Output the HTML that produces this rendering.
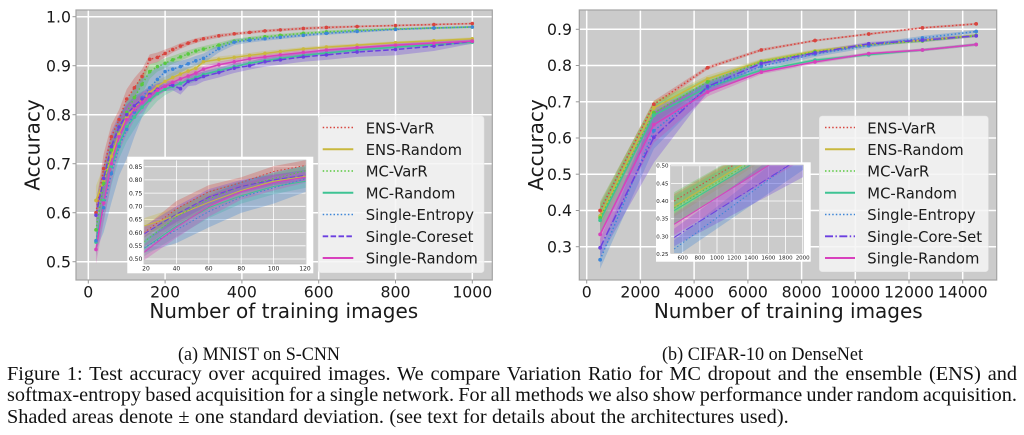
<!DOCTYPE html>
<html><head><meta charset="utf-8"><style>
html,body{margin:0;padding:0;background:#fff;}
body{position:relative;width:1024px;height:435px;overflow:hidden;}
svg{display:block;position:absolute;left:0;top:0;}
.t{font-family:"DejaVu Sans","Liberation Sans",sans-serif;fill:#1a1a1a;}
.cap{position:absolute;left:7px;width:1010px;height:24px;line-height:24px;font-family:"Liberation Serif","Times New Roman",Times,serif;font-size:20.3px;color:#111;overflow:hidden;}
.j{text-align:justify;text-align-last:justify;}
</style></head><body>
<svg width="1024" height="435" viewBox="0 0 1024 435" xmlns="http://www.w3.org/2000/svg">
<defs>
<clipPath id="cL"><rect x="76" y="10" width="416.3" height="270"/></clipPath>
<clipPath id="cR"><rect x="579.3" y="10" width="417.4" height="270"/></clipPath>
<clipPath id="cLi"><rect x="144" y="160" width="162" height="104"/></clipPath>
<clipPath id="cRi"><rect x="670.7" y="165" width="132.6" height="88.3"/></clipPath>

<g id="Ldata">
 <g stroke="none" fill-opacity="0.3">
  <path fill="#d8453f" d="M20 .62L40 .72L60 .78L80 .81L100 .852L120 .875L140 .893L160 .923L180 .927L200 .933L220 .939L240 .946L260 .951L280 .956L300 .959L340 .965L380 .968L420 .971L460 .974L500 .976L560 .979L620 .981L700 .982L800 .984L900 .986L1000 .988L1000 .984L900 .982L800 .98L700 .978L620 .975L560 .973L500 .97L460 .968L420 .965L380 .962L340 .957L300 .951L280 .946L260 .941L240 .934L220 .927L200 .917L180 .907L160 .903L140 .863L120 .835L100 .812L80 .77L60 .73L40 .66L20 .58Z"/>
  <path fill="#c9b83e" d="M20 .655L40 .695L60 .745L80 .785L100 .815L120 .835L140 .845L160 .86L180 .87L200 .878L220 .886L240 .893L260 .897L280 .903L300 .914L340 .919L380 .922L420 .926L460 .93L500 .933L560 .938L620 .942L700 .945L800 .95L900 .954L1000 .958L1000 .952L900 .948L800 .944L700 .939L620 .934L560 .93L500 .925L460 .92L420 .916L380 .912L340 .907L300 .902L280 .887L260 .881L240 .873L220 .866L200 .858L180 .846L160 .83L140 .815L120 .795L100 .775L80 .735L60 .685L40 .635L20 .595Z"/>
  <path fill="#58c93f" d="M20 .585L40 .69L60 .758L80 .795L100 .825L120 .855L140 .882L160 .903L180 .908L200 .915L220 .92L240 .926L260 .931L280 .936L300 .94L340 .947L380 .955L420 .959L460 .963L500 .965L560 .969L620 .972L700 .975L800 .977L900 .979L1000 .981L1000 .977L900 .975L800 .973L700 .969L620 .966L560 .963L500 .959L460 .955L420 .951L380 .945L340 .937L300 .928L280 .924L260 .917L240 .91L220 .904L200 .895L180 .888L160 .873L140 .842L120 .815L100 .785L80 .755L60 .698L40 .63L20 .545Z"/>
  <path fill="#3ec393" d="M20 .57L40 .665L60 .735L80 .77L100 .805L120 .82L140 .835L160 .85L180 .858L200 .864L220 .868L240 .874L260 .878L280 .884L300 .889L340 .896L380 .903L420 .91L460 .915L500 .92L560 .925L620 .93L700 .936L800 .942L900 .947L1000 .952L1000 .944L900 .939L800 .934L700 .928L620 .922L560 .917L500 .91L460 .905L420 .9L380 .893L340 .884L300 .875L280 .868L260 .862L240 .854L220 .848L200 .84L180 .828L160 .81L140 .795L120 .77L100 .745L80 .71L60 .655L40 .585L20 .51Z"/>
  <path fill="#3d86d8" d="M20 .563L40 .66L60 .74L80 .795L100 .83L120 .855L140 .875L160 .885L180 .897L200 .908L220 .908L240 .91L260 .914L280 .92L300 .925L340 .943L380 .954L420 .957L460 .959L500 .962L560 .965L620 .969L700 .973L800 .976L900 .979L1000 .981L1000 .977L900 .975L800 .972L700 .967L620 .963L560 .959L500 .954L460 .951L420 .947L380 .942L340 .927L300 .905L280 .9L260 .894L240 .886L220 .878L200 .868L180 .847L160 .825L140 .795L120 .755L100 .71L80 .675L60 .62L40 .56L20 .523Z"/>
  <path fill="#6b3fe0" d="M20 .625L40 .7L60 .765L80 .8L100 .82L120 .838L140 .847L160 .857L180 .864L200 .868L220 .87L240 .865L260 .878L280 .884L300 .888L340 .896L380 .905L420 .908L460 .918L500 .922L560 .928L620 .932L700 .938L800 .945L900 .95L1000 .955L1000 .945L900 .93L800 .921L700 .918L620 .912L560 .908L500 .902L460 .898L420 .892L380 .885L340 .876L300 .868L280 .86L260 .858L240 .841L220 .85L200 .848L180 .84L160 .827L140 .817L120 .798L100 .78L80 .75L60 .705L40 .64L20 .565Z"/>
  <path fill="#d840bd" d="M20 .555L40 .66L60 .74L80 .785L100 .82L120 .83L140 .845L160 .853L180 .862L200 .868L220 .876L240 .883L260 .887L280 .893L300 .9L340 .908L380 .914L420 .919L460 .923L500 .927L560 .932L620 .936L700 .941L800 .946L900 .95L1000 .954L1000 .946L900 .942L800 .938L700 .933L620 .928L560 .922L500 .917L460 .913L420 .909L380 .902L340 .896L300 .886L280 .877L260 .871L240 .863L220 .856L200 .848L180 .838L160 .823L140 .805L120 .79L100 .76L80 .725L60 .66L40 .58L20 .495Z"/>
 </g>
 <g fill="none">
  <path vector-effect="non-scaling-stroke" stroke="#d8453f" stroke-dasharray="1.5 2.2" d="M20 .6L40 .69L60 .755L80 .79L100 .832L120 .855L140 .878L160 .913L180 .917L200 .925L220 .933L240 .94L260 .946L280 .951L300 .955L340 .961L380 .965L420 .968L460 .971L500 .973L560 .976L620 .978L700 .98L800 .982L900 .984L1000 .986"/>
  <path vector-effect="non-scaling-stroke" stroke="#c9b83e" d="M20 .625L40 .665L60 .715L80 .76L100 .795L120 .815L140 .83L160 .845L180 .858L200 .868L220 .876L240 .883L260 .889L280 .895L300 .908L340 .913L380 .917L420 .921L460 .925L500 .929L560 .934L620 .938L700 .942L800 .947L900 .951L1000 .955"/>
  <path vector-effect="non-scaling-stroke" stroke="#58c93f" stroke-dasharray="1.5 2.2" d="M20 .565L40 .66L60 .728L80 .775L100 .805L120 .835L140 .862L160 .888L180 .898L200 .905L220 .912L240 .918L260 .924L280 .93L300 .934L340 .942L380 .95L420 .955L460 .959L500 .962L560 .966L620 .969L700 .972L800 .975L900 .977L1000 .979"/>
  <path vector-effect="non-scaling-stroke" stroke="#3ec393" d="M20 .54L40 .625L60 .695L80 .74L100 .775L120 .795L140 .815L160 .83L180 .843L200 .852L220 .858L240 .864L260 .87L280 .876L300 .882L340 .89L380 .898L420 .905L460 .91L500 .915L560 .921L620 .926L700 .932L800 .938L900 .943L1000 .948"/>
  <path vector-effect="non-scaling-stroke" stroke="#3d86d8" stroke-dasharray="1.5 2.2" d="M20 .543L40 .61L60 .68L80 .735L100 .77L120 .805L140 .835L160 .855L180 .872L200 .888L220 .893L240 .898L260 .904L280 .91L300 .915L340 .935L380 .948L420 .952L460 .955L500 .958L560 .962L620 .966L700 .97L800 .974L900 .977L1000 .979"/>
  <path vector-effect="non-scaling-stroke" stroke="#6b3fe0" stroke-dasharray="5.5 2.4" d="M20 .595L40 .67L60 .735L80 .775L100 .8L120 .818L140 .832L160 .842L180 .852L200 .858L220 .86L240 .853L260 .868L280 .872L300 .878L340 .886L380 .895L420 .9L460 .908L500 .912L560 .918L620 .922L700 .928L800 .933L900 .94L1000 .95"/>
  <path vector-effect="non-scaling-stroke" stroke="#d840bd" d="M20 .525L40 .62L60 .7L80 .755L100 .79L120 .81L140 .825L160 .838L180 .85L200 .858L220 .866L240 .873L260 .879L280 .885L300 .893L340 .902L380 .908L420 .914L460 .918L500 .922L560 .927L620 .932L700 .937L800 .942L900 .946L1000 .95"/>
 </g>
</g>

<g id="Lmarks" fill="none" stroke-linecap="round" stroke-width="3.6">
  <path vector-effect="non-scaling-stroke" stroke="#d8453f" d="M20 .6h0M40 .69h0M60 .755h0M80 .79h0M100 .832h0M120 .855h0M140 .878h0M160 .913h0M180 .917h0M200 .925h0M220 .933h0M240 .94h0M260 .946h0M280 .951h0M300 .955h0M340 .961h0M380 .965h0M420 .968h0M460 .971h0M500 .973h0M560 .976h0M620 .978h0M700 .98h0M800 .982h0M900 .984h0M1000 .986h0"/>
  <path vector-effect="non-scaling-stroke" stroke="#c9b83e" d="M20 .625h0M40 .665h0M60 .715h0M80 .76h0M100 .795h0M120 .815h0M140 .83h0M160 .845h0M180 .858h0M200 .868h0M220 .876h0M240 .883h0M260 .889h0M280 .895h0M300 .908h0M340 .913h0M380 .917h0M420 .921h0M460 .925h0M500 .929h0M560 .934h0M620 .938h0M700 .942h0M800 .947h0M900 .951h0M1000 .955h0"/>
  <path vector-effect="non-scaling-stroke" stroke="#58c93f" d="M20 .565h0M40 .66h0M60 .728h0M80 .775h0M100 .805h0M120 .835h0M140 .862h0M160 .888h0M180 .898h0M200 .905h0M220 .912h0M240 .918h0M260 .924h0M280 .93h0M300 .934h0M340 .942h0M380 .95h0M420 .955h0M460 .959h0M500 .962h0M560 .966h0M620 .969h0M700 .972h0M800 .975h0M900 .977h0M1000 .979h0"/>
  <path vector-effect="non-scaling-stroke" stroke="#3ec393" d="M20 .54h0M40 .625h0M60 .695h0M80 .74h0M100 .775h0M120 .795h0M140 .815h0M160 .83h0M180 .843h0M200 .852h0M220 .858h0M240 .864h0M260 .87h0M280 .876h0M300 .882h0M340 .89h0M380 .898h0M420 .905h0M460 .91h0M500 .915h0M560 .921h0M620 .926h0M700 .932h0M800 .938h0M900 .943h0M1000 .948h0"/>
  <path vector-effect="non-scaling-stroke" stroke="#3d86d8" d="M20 .543h0M40 .61h0M60 .68h0M80 .735h0M100 .77h0M120 .805h0M140 .835h0M160 .855h0M180 .872h0M200 .888h0M220 .893h0M240 .898h0M260 .904h0M280 .91h0M300 .915h0M340 .935h0M380 .948h0M420 .952h0M460 .955h0M500 .958h0M560 .962h0M620 .966h0M700 .97h0M800 .974h0M900 .977h0M1000 .979h0"/>
  <path vector-effect="non-scaling-stroke" stroke="#6b3fe0" d="M20 .595h0M40 .67h0M60 .735h0M80 .775h0M100 .8h0M120 .818h0M140 .832h0M160 .842h0M180 .852h0M200 .858h0M220 .86h0M240 .853h0M260 .868h0M280 .872h0M300 .878h0M340 .886h0M380 .895h0M420 .9h0M460 .908h0M500 .912h0M560 .918h0M620 .922h0M700 .928h0M800 .933h0M900 .94h0M1000 .95h0"/>
  <path vector-effect="non-scaling-stroke" stroke="#d840bd" d="M20 .525h0M40 .62h0M60 .7h0M80 .755h0M100 .79h0M120 .81h0M140 .825h0M160 .838h0M180 .85h0M200 .858h0M220 .866h0M240 .873h0M260 .879h0M280 .885h0M300 .893h0M340 .902h0M380 .908h0M420 .914h0M460 .918h0M500 .922h0M560 .927h0M620 .932h0M700 .937h0M800 .942h0M900 .946h0M1000 .95h0"/>
</g>

<g id="Rdata">
 <g stroke="none" fill-opacity="0.3">
  <path fill="#d8453f" d="M500 .42L2500 .703L4500 .799L6500 .847L8500 .872L10500 .89L12500 .907L14500 .918L14500 .912L12500 .901L10500 .884L8500 .866L6500 .839L4500 .789L2500 .683L500 .38Z"/>
  <path fill="#c9b83e" d="M500 .415L2500 .703L4500 .773L6500 .818L8500 .845L10500 .862L12500 .874L14500 .887L14500 .879L12500 .866L10500 .854L8500 .835L6500 .806L4500 .753L2500 .663L500 .355Z"/>
  <path fill="#58c93f" d="M500 .425L2500 .7L4500 .767L6500 .816L8500 .843L10500 .861L12500 .872L14500 .887L14500 .879L12500 .864L10500 .853L8500 .833L6500 .804L4500 .743L2500 .64L500 .335Z"/>
  <path fill="#3ec393" d="M500 .413L2500 .693L4500 .752L6500 .793L8500 .82L10500 .834L12500 .847L14500 .862L14500 .854L12500 .839L10500 .826L8500 .81L6500 .781L4500 .728L2500 .633L500 .333Z"/>
  <path fill="#3d86d8" d="M500 .289L2500 .67L4500 .753L6500 .808L8500 .84L10500 .861L12500 .882L14500 .898L14500 .89L12500 .87L10500 .849L8500 .824L6500 .788L4500 .723L2500 .57L500 .239Z"/>
  <path fill="#6b3fe0" d="M500 .322L2500 .672L4500 .757L6500 .814L8500 .841L10500 .865L12500 .875L14500 .886L14500 .878L12500 .865L10500 .855L8500 .829L6500 .798L4500 .727L2500 .532L500 .272Z"/>
  <path fill="#d840bd" d="M500 .364L2500 .687L4500 .739L6500 .788L8500 .815L10500 .837L12500 .847L14500 .862L14500 .854L12500 .839L10500 .829L8500 .805L6500 .776L4500 .715L2500 .587L500 .304Z"/>
 </g>
 <g fill="none">
  <path vector-effect="non-scaling-stroke" stroke="#d8453f" stroke-dasharray="1.5 2.2" d="M500 .4L2500 .693L4500 .794L6500 .843L8500 .869L10500 .887L12500 .904L14500 .915"/>
  <path vector-effect="non-scaling-stroke" stroke="#c9b83e" d="M500 .385L2500 .683L4500 .763L6500 .812L8500 .84L10500 .858L12500 .87L14500 .883"/>
  <path vector-effect="non-scaling-stroke" stroke="#58c93f" stroke-dasharray="1.5 2.2" d="M500 .38L2500 .67L4500 .755L6500 .81L8500 .838L10500 .857L12500 .868L14500 .883"/>
  <path vector-effect="non-scaling-stroke" stroke="#3ec393" d="M500 .373L2500 .663L4500 .74L6500 .787L8500 .815L10500 .83L12500 .843L14500 .858"/>
  <path vector-effect="non-scaling-stroke" stroke="#3d86d8" stroke-dasharray="1.5 2.2" d="M500 .264L2500 .62L4500 .738L6500 .798L8500 .832L10500 .855L12500 .876L14500 .894"/>
  <path vector-effect="non-scaling-stroke" stroke="#6b3fe0" stroke-dasharray="8 2.4 1.5 2.4" d="M500 .297L2500 .602L4500 .742L6500 .806L8500 .835L10500 .86L12500 .87L14500 .882"/>
  <path vector-effect="non-scaling-stroke" stroke="#d840bd" d="M500 .334L2500 .637L4500 .727L6500 .782L8500 .81L10500 .833L12500 .843L14500 .858"/>
 </g>
</g>

<g id="Rmarks" fill="none" stroke-linecap="round" stroke-width="3.8">
  <path vector-effect="non-scaling-stroke" stroke="#d8453f" d="M500 .4h0M2500 .693h0M4500 .794h0M6500 .843h0M8500 .869h0M10500 .887h0M12500 .904h0M14500 .915h0"/>
  <path vector-effect="non-scaling-stroke" stroke="#c9b83e" d="M500 .385h0M2500 .683h0M4500 .763h0M6500 .812h0M8500 .84h0M10500 .858h0M12500 .87h0M14500 .883h0"/>
  <path vector-effect="non-scaling-stroke" stroke="#58c93f" d="M500 .38h0M2500 .67h0M4500 .755h0M6500 .81h0M8500 .838h0M10500 .857h0M12500 .868h0M14500 .883h0"/>
  <path vector-effect="non-scaling-stroke" stroke="#3ec393" d="M500 .373h0M2500 .663h0M4500 .74h0M6500 .787h0M8500 .815h0M10500 .83h0M12500 .843h0M14500 .858h0"/>
  <path vector-effect="non-scaling-stroke" stroke="#3d86d8" d="M500 .264h0M2500 .62h0M4500 .738h0M6500 .798h0M8500 .832h0M10500 .855h0M12500 .876h0M14500 .894h0"/>
  <path vector-effect="non-scaling-stroke" stroke="#6b3fe0" d="M500 .297h0M2500 .602h0M4500 .742h0M6500 .806h0M8500 .835h0M10500 .86h0M12500 .87h0M14500 .882h0"/>
  <path vector-effect="non-scaling-stroke" stroke="#d840bd" d="M500 .334h0M2500 .637h0M4500 .727h0M6500 .782h0M8500 .81h0M10500 .833h0M12500 .843h0M14500 .858h0"/>
</g>
</defs>

<!-- ================= LEFT PLOT ================= -->
<rect x="76" y="10" width="416.3" height="270" fill="#cbcbcb"/>
<g stroke="#ffffff" stroke-width="1.5">
  <line x1="88.3" y1="10" x2="88.3" y2="280"/>
  <line x1="165.1" y1="10" x2="165.1" y2="280"/>
  <line x1="241.9" y1="10" x2="241.9" y2="280"/>
  <line x1="318.7" y1="10" x2="318.7" y2="280"/>
  <line x1="395.5" y1="10" x2="395.5" y2="280"/>
  <line x1="472.3" y1="10" x2="472.3" y2="280"/>
  <line x1="76" y1="16.7" x2="492.3" y2="16.7"/>
  <line x1="76" y1="65.7" x2="492.3" y2="65.7"/>
  <line x1="76" y1="114.7" x2="492.3" y2="114.7"/>
  <line x1="76" y1="163.7" x2="492.3" y2="163.7"/>
  <line x1="76" y1="212.7" x2="492.3" y2="212.7"/>
  <line x1="76" y1="261.7" x2="492.3" y2="261.7"/>
</g>
<g clip-path="url(#cL)">
  <use href="#Ldata" transform="translate(88.3,506.7) scale(0.384,-490)" stroke-width="1.5"/>
  <use href="#Lmarks" transform="translate(88.3,506.7) scale(0.384,-490)"/>
</g>
<rect x="76" y="10" width="416.3" height="270" fill="none" stroke="#a3a3a3" stroke-width="1.2"/>
<g stroke="#999" stroke-width="1">
  <line x1="72.5" y1="16.7" x2="76" y2="16.7"/><line x1="72.5" y1="65.7" x2="76" y2="65.7"/><line x1="72.5" y1="114.7" x2="76" y2="114.7"/><line x1="72.5" y1="163.7" x2="76" y2="163.7"/><line x1="72.5" y1="212.7" x2="76" y2="212.7"/><line x1="72.5" y1="261.7" x2="76" y2="261.7"/>
  <line x1="88.3" y1="280" x2="88.3" y2="283.5"/><line x1="165.1" y1="280" x2="165.1" y2="283.5"/><line x1="241.9" y1="280" x2="241.9" y2="283.5"/><line x1="318.7" y1="280" x2="318.7" y2="283.5"/><line x1="395.5" y1="280" x2="395.5" y2="283.5"/><line x1="472.3" y1="280" x2="472.3" y2="283.5"/>
</g>
<g class="t" font-size="15.7" text-anchor="end">
  <text x="71" y="22.4">1.0</text>
  <text x="71" y="71.4">0.9</text>
  <text x="71" y="120.4">0.8</text>
  <text x="71" y="169.4">0.7</text>
  <text x="71" y="218.4">0.6</text>
  <text x="71" y="267.4">0.5</text>
</g>
<g class="t" font-size="15.7" text-anchor="middle">
  <text x="88.3" y="297.5">0</text>
  <text x="165.1" y="297.5">200</text>
  <text x="241.9" y="297.5">400</text>
  <text x="318.7" y="297.5">600</text>
  <text x="395.5" y="297.5">800</text>
  <text x="472.3" y="297.5">1000</text>
</g>
<text class="t" font-size="20" text-anchor="middle" x="283.8" y="318">Number of training images</text>
<text class="t" font-size="20" text-anchor="middle" transform="translate(39.5,145) rotate(-90)">Accuracy</text>

<!-- left legend -->
<rect x="318.3" y="116" width="165.7" height="156.7" rx="3" fill="#f5f5f5" fill-opacity="0.86" stroke="#e4e4e4" stroke-width="0.6"/>
<g fill="none">
  <line x1="322.7" y1="127.5" x2="353.3" y2="127.5" stroke="#d8453f" stroke-width="1.6" stroke-dasharray="1.5 2.1"/>
  <line x1="322.7" y1="149.2" x2="353.3" y2="149.2" stroke="#c9b83e" stroke-width="2"/>
  <line x1="322.7" y1="171" x2="353.3" y2="171" stroke="#58c93f" stroke-width="1.6" stroke-dasharray="1.5 2.1"/>
  <line x1="322.7" y1="192.7" x2="353.3" y2="192.7" stroke="#3ec393" stroke-width="2"/>
  <line x1="322.7" y1="214.5" x2="353.3" y2="214.5" stroke="#3d86d8" stroke-width="1.6" stroke-dasharray="1.5 2.1"/>
  <line x1="322.7" y1="236.3" x2="353.3" y2="236.3" stroke="#6b3fe0" stroke-width="1.8" stroke-dasharray="5.5 2.4"/>
  <line x1="322.7" y1="258" x2="353.3" y2="258" stroke="#d840bd" stroke-width="2"/>
</g>
<g class="t" font-size="14.8">
  <text x="365.7" y="133.3">ENS-VarR</text>
  <text x="365.7" y="155">ENS-Random</text>
  <text x="365.7" y="176.7">MC-VarR</text>
  <text x="365.7" y="198.4">MC-Random</text>
  <text x="365.7" y="220.2">Single-Entropy</text>
  <text x="365.7" y="242">Single-Coreset</text>
  <text x="365.7" y="263.7">Single-Random</text>
</g>

<!-- left inset -->
<rect x="127.3" y="156.7" width="186" height="116.6" fill="#ffffff"/>
<rect x="144" y="160" width="162" height="104" fill="#cbcbcb"/>
<g stroke="#ffffff" stroke-width="0.8">
  <line x1="144" y1="160" x2="144" y2="264"/><line x1="176.4" y1="160" x2="176.4" y2="264"/><line x1="208.8" y1="160" x2="208.8" y2="264"/><line x1="241.2" y1="160" x2="241.2" y2="264"/><line x1="273.6" y1="160" x2="273.6" y2="264"/><line x1="306" y1="160" x2="306" y2="264"/>
  <line x1="144" y1="259" x2="306" y2="259"/><line x1="144" y1="245.8" x2="306" y2="245.8"/><line x1="144" y1="232.6" x2="306" y2="232.6"/><line x1="144" y1="219.5" x2="306" y2="219.5"/><line x1="144" y1="206.3" x2="306" y2="206.3"/><line x1="144" y1="193.1" x2="306" y2="193.1"/><line x1="144" y1="179.9" x2="306" y2="179.9"/><line x1="144" y1="166.7" x2="306" y2="166.7"/>
</g>
<g clip-path="url(#cLi)">
  <use href="#Ldata" transform="translate(111.6,390.85) scale(1.62,-263.7)" stroke-width="1"/>
</g>
<rect x="144" y="160" width="162" height="104" fill="none" stroke="#b5b5b5" stroke-width="0.6"/>
<g class="t" font-size="6" text-anchor="end" fill="#333">
  <text x="142.3" y="261.2">0.50</text>
  <text x="142.3" y="248">0.55</text>
  <text x="142.3" y="234.8">0.60</text>
  <text x="142.3" y="221.7">0.65</text>
  <text x="142.3" y="208.5">0.70</text>
  <text x="142.3" y="195.3">0.75</text>
  <text x="142.3" y="182.1">0.80</text>
  <text x="142.3" y="168.9">0.85</text>
</g>
<g class="t" font-size="6" text-anchor="middle" fill="#333">
  <text x="146" y="270.5">20</text>
  <text x="176.4" y="270.5">40</text>
  <text x="208.8" y="270.5">60</text>
  <text x="241.2" y="270.5">80</text>
  <text x="273.6" y="270.5">100</text>
  <text x="305" y="270.5">120</text>
</g>

<!-- ================= RIGHT PLOT ================= -->
<rect x="579.3" y="10" width="417.4" height="270" fill="#cbcbcb"/>
<g stroke="#ffffff" stroke-width="1.5">
  <line x1="586.7" y1="10" x2="586.7" y2="280"/>
  <line x1="640.4" y1="10" x2="640.4" y2="280"/>
  <line x1="694.1" y1="10" x2="694.1" y2="280"/>
  <line x1="747.9" y1="10" x2="747.9" y2="280"/>
  <line x1="801.6" y1="10" x2="801.6" y2="280"/>
  <line x1="855.3" y1="10" x2="855.3" y2="280"/>
  <line x1="909" y1="10" x2="909" y2="280"/>
  <line x1="962.7" y1="10" x2="962.7" y2="280"/>
  <line x1="579.3" y1="29.3" x2="996.7" y2="29.3"/>
  <line x1="579.3" y1="65.5" x2="996.7" y2="65.5"/>
  <line x1="579.3" y1="101.8" x2="996.7" y2="101.8"/>
  <line x1="579.3" y1="138" x2="996.7" y2="138"/>
  <line x1="579.3" y1="174.2" x2="996.7" y2="174.2"/>
  <line x1="579.3" y1="210.5" x2="996.7" y2="210.5"/>
  <line x1="579.3" y1="246.7" x2="996.7" y2="246.7"/>
</g>
<g clip-path="url(#cR)">
  <use href="#Rdata" transform="translate(586.7,355.4) scale(0.02686,-362.3)" stroke-width="1.5"/>
  <use href="#Rmarks" transform="translate(586.7,355.4) scale(0.02686,-362.3)"/>
</g>
<rect x="579.3" y="10" width="417.4" height="270" fill="none" stroke="#a3a3a3" stroke-width="1.2"/>
<g stroke="#999" stroke-width="1">
  <line x1="575.8" y1="29.3" x2="579.3" y2="29.3"/><line x1="575.8" y1="65.5" x2="579.3" y2="65.5"/><line x1="575.8" y1="101.8" x2="579.3" y2="101.8"/><line x1="575.8" y1="138" x2="579.3" y2="138"/><line x1="575.8" y1="174.2" x2="579.3" y2="174.2"/><line x1="575.8" y1="210.5" x2="579.3" y2="210.5"/><line x1="575.8" y1="246.7" x2="579.3" y2="246.7"/>
  <line x1="586.7" y1="280" x2="586.7" y2="283.5"/><line x1="640.4" y1="280" x2="640.4" y2="283.5"/><line x1="694.1" y1="280" x2="694.1" y2="283.5"/><line x1="747.9" y1="280" x2="747.9" y2="283.5"/><line x1="801.6" y1="280" x2="801.6" y2="283.5"/><line x1="855.3" y1="280" x2="855.3" y2="283.5"/><line x1="909" y1="280" x2="909" y2="283.5"/><line x1="962.7" y1="280" x2="962.7" y2="283.5"/>
</g>
<g class="t" font-size="15.7" text-anchor="end">
  <text x="572" y="35">0.9</text>
  <text x="572" y="71.2">0.8</text>
  <text x="572" y="107.5">0.7</text>
  <text x="572" y="143.7">0.6</text>
  <text x="572" y="179.9">0.5</text>
  <text x="572" y="216.2">0.4</text>
  <text x="572" y="252.4">0.3</text>
</g>
<g class="t" font-size="15.7" text-anchor="middle">
  <text x="586.7" y="297.5">0</text>
  <text x="640.4" y="297.5">2000</text>
  <text x="694.1" y="297.5">4000</text>
  <text x="747.9" y="297.5">6000</text>
  <text x="801.6" y="297.5">8000</text>
  <text x="855.3" y="297.5">10000</text>
  <text x="909" y="297.5">12000</text>
  <text x="962.7" y="297.5">14000</text>
</g>
<text class="t" font-size="20" text-anchor="middle" x="788.3" y="318">Number of training images</text>
<text class="t" font-size="20" text-anchor="middle" transform="translate(543,145) rotate(-90)">Accuracy</text>

<!-- right legend -->
<rect x="819.3" y="116" width="169" height="155.7" rx="3" fill="#f5f5f5" fill-opacity="0.86" stroke="#e4e4e4" stroke-width="0.6"/>
<g fill="none">
  <line x1="825" y1="127.5" x2="855" y2="127.5" stroke="#d8453f" stroke-width="1.6" stroke-dasharray="1.5 2.1"/>
  <line x1="825" y1="149.2" x2="855" y2="149.2" stroke="#c9b83e" stroke-width="2"/>
  <line x1="825" y1="171" x2="855" y2="171" stroke="#58c93f" stroke-width="1.6" stroke-dasharray="1.5 2.1"/>
  <line x1="825" y1="192.7" x2="855" y2="192.7" stroke="#3ec393" stroke-width="2"/>
  <line x1="825" y1="214.5" x2="855" y2="214.5" stroke="#3d86d8" stroke-width="1.6" stroke-dasharray="1.5 2.1"/>
  <line x1="825" y1="236.3" x2="855" y2="236.3" stroke="#6b3fe0" stroke-width="1.8" stroke-dasharray="8 2.4 1.5 2.4"/>
  <line x1="825" y1="258" x2="855" y2="258" stroke="#d840bd" stroke-width="2"/>
</g>
<g class="t" font-size="14.8">
  <text x="867.3" y="133.3">ENS-VarR</text>
  <text x="867.3" y="155">ENS-Random</text>
  <text x="867.3" y="176.7">MC-VarR</text>
  <text x="867.3" y="198.4">MC-Random</text>
  <text x="867.3" y="220.2">Single-Entropy</text>
  <text x="867.3" y="242">Single-Core-Set</text>
  <text x="867.3" y="263.7">Single-Random</text>
</g>

<!-- right inset -->
<rect x="656" y="162.3" width="154.7" height="99.4" fill="#ffffff"/>
<rect x="670.7" y="165" width="132.6" height="88.3" fill="#cbcbcb"/>
<g stroke="#ffffff" stroke-width="0.8">
  <line x1="682.7" y1="165" x2="682.7" y2="253.3"/><line x1="699.8" y1="165" x2="699.8" y2="253.3"/><line x1="717" y1="165" x2="717" y2="253.3"/><line x1="734.1" y1="165" x2="734.1" y2="253.3"/><line x1="751.3" y1="165" x2="751.3" y2="253.3"/><line x1="768.4" y1="165" x2="768.4" y2="253.3"/><line x1="785.6" y1="165" x2="785.6" y2="253.3"/><line x1="802.7" y1="165" x2="802.7" y2="253.3"/>
  <line x1="670.7" y1="236.3" x2="803.3" y2="236.3"/><line x1="670.7" y1="218.7" x2="803.3" y2="218.7"/><line x1="670.7" y1="201" x2="803.3" y2="201"/><line x1="670.7" y1="183.4" x2="803.3" y2="183.4"/><line x1="670.7" y1="165.7" x2="803.3" y2="165.7"/>
</g>
<g clip-path="url(#cRi)">
  <use href="#Rdata" transform="translate(631.28,342.3) scale(0.0857,-353.2)" stroke-width="1"/>
</g>
<rect x="670.7" y="165" width="132.6" height="88.3" fill="none" stroke="#b5b5b5" stroke-width="0.6"/>
<g class="t" font-size="5.5" text-anchor="end" fill="#333">
  <text x="668.5" y="256">0.25</text>
  <text x="668.5" y="238.3">0.30</text>
  <text x="668.5" y="220.7">0.35</text>
  <text x="668.5" y="203">0.40</text>
  <text x="668.5" y="185.4">0.45</text>
  <text x="668.5" y="167.7">0.50</text>
</g>
<g class="t" font-size="5.5" text-anchor="middle" fill="#333">
  <text x="682.7" y="259.4">600</text>
  <text x="699.8" y="259.4">800</text>
  <text x="717" y="259.4">1000</text>
  <text x="734.1" y="259.4">1200</text>
  <text x="751.3" y="259.4">1400</text>
  <text x="768.4" y="259.4">1600</text>
  <text x="785.6" y="259.4">1800</text>
  <text x="802.7" y="259.4">2000</text>
</g>

<!-- sub captions -->
<g fill="#111" font-size="18.7">
  <text font-family="'Liberation Serif','Times New Roman',Times,serif" x="178" y="360" textLength="162" lengthAdjust="spacingAndGlyphs">(a) MNIST on S-CNN</text>
  <text font-family="'Liberation Serif','Times New Roman',Times,serif" x="662" y="360" textLength="201" lengthAdjust="spacingAndGlyphs">(b) CIFAR-10 on DenseNet</text>
</g>
</svg>

<div class="cap j" style="top:361.7px;">Figure 1: Test accuracy over acquired images. We compare Variation Ratio for MC dropout and the ensemble (ENS) and</div>
<div class="cap j" style="top:383.2px;word-spacing:-2px;">softmax-entropy based acquisition for a single network. For all methods we also show performance under random acquisition.</div>
<div class="cap" style="top:405.2px;word-spacing:0.25px;">Shaded areas denote ± one standard deviation. (see text for details about the architectures used).</div>
</body></html>
